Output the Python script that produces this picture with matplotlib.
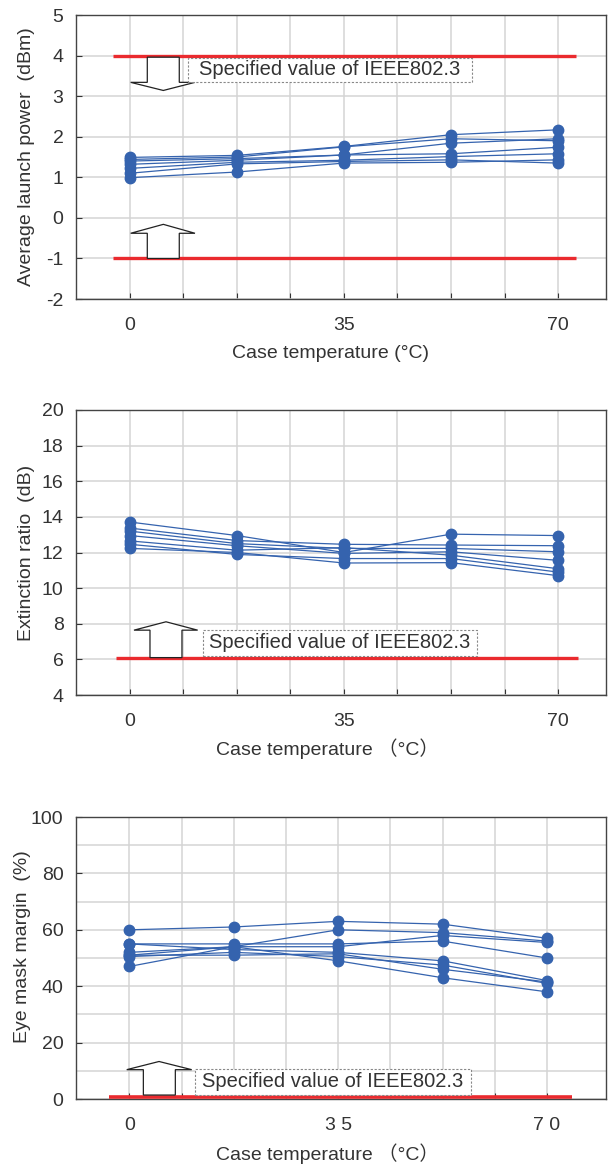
import matplotlib
matplotlib.use('Agg')
import matplotlib.pyplot as plt
from matplotlib.patches import Polygon, Rectangle
from matplotlib.ticker import FixedLocator

plt.rcParams['font.family'] = ['Liberation Sans', 'Noto Sans CJK JP', 'DejaVu Sans']
plt.rcParams['axes.unicode_minus'] = False

# ---------------- data ----------------
temps = [0, 17.5, 35, 52.5, 70]

power_series = [
    [1.49, 1.54, 1.76, 2.05, 2.17],
    [1.44, 1.50, 1.75, 1.95, 1.90],
    [1.40, 1.46, 1.55, 1.84, 1.95],
    [1.32, 1.42, 1.55, 1.58, 1.74],
    [1.22, 1.37, 1.42, 1.51, 1.58],
    [1.10, 1.33, 1.39, 1.43, 1.35],
    [0.99, 1.13, 1.35, 1.37, 1.43],
]
power_limits = [4.0, -1.0]

extinction_series = [
    [13.71, 12.95, 12.00, 13.03, 12.95],
    [13.37, 12.67, 12.46, 12.42, 12.38],
    [13.20, 12.50, 12.23, 12.23, 12.04],
    [12.95, 12.38, 11.95, 12.04, 11.56],
    [12.65, 12.13, 12.27, 11.85, 11.09],
    [12.46, 11.89, 11.66, 11.66, 10.90],
    [12.23, 12.00, 11.41, 11.43, 10.70],
]
extinction_limit = 6.1

eye_series = [
    [60.0, 61.0, 63.0, 62.0, 57.0],
    [51.0, 54.0, 60.0, 59.0, 56.0],
    [55.0, 55.0, 55.0, 56.0, 50.0],
    [52.0, 54.0, 54.0, 58.0, 55.5],
    [55.0, 53.0, 52.0, 49.0, 42.0],
    [50.5, 52.0, 50.5, 47.5, 41.0],
    [47.0, 54.0, 49.0, 43.0, 38.0],
    [51.0, 51.0, 51.5, 46.0, 41.5],
]
eye_limit = 0.8

spec_text = "Specified value of IEEE802.3"

# ---------------- style ----------------
BLUE = '#3563ae'
RED = '#ea2a2e'
GRID = '#d4d4d4'
TXT = '#333333'
FS = 14

W, H = 610, 1165
fig = plt.figure(figsize=(W / 100, H / 100), dpi=100)


def add_ax(left, top, right, bottom):
    return fig.add_axes([left / W, 1 - bottom / H, (right - left) / W, (bottom - top) / H])


def style(ax, xlim, ylim, yticks, yminor, xtick_labels):
    ax.set_xlim(*xlim)
    ax.set_ylim(*ylim)
    ax.xaxis.set_major_locator(FixedLocator([0, 35, 70]))
    ax.xaxis.set_minor_locator(FixedLocator([8.75, 17.5, 26.25, 43.75, 52.5, 61.25]))
    ax.set_xticklabels(xtick_labels)
    ax.yaxis.set_major_locator(FixedLocator(yticks))
    if yminor:
        ax.yaxis.set_minor_locator(FixedLocator(yminor))
    ax.grid(True, which='both', color=GRID, lw=1.1, zorder=0)
    ax.set_axisbelow(True)
    ax.tick_params(axis='both', which='both', direction='in', length=4, width=0.8,
                   color='#333333', labelsize=FS, labelcolor=TXT)
    ax.tick_params(axis='x', which='major', pad=13)
    ax.tick_params(axis='y', which='minor', length=0)
    ax.tick_params(axis='y', which='major', pad=9)
    for s in ax.spines.values():
        s.set_color('#444444')
        s.set_linewidth(1.0)


def block_arrow(ax, x0, x1, hx0, hx1, tipx, base_y, head_y, tip_y):
    pts = [(x0, base_y), (x0, head_y), (hx0, head_y), (tipx, tip_y),
           (hx1, head_y), (x1, head_y), (x1, base_y)]
    ax.add_patch(Polygon(pts, closed=True, facecolor='white', edgecolor='#222222',
                         lw=0.9, zorder=4))


def spec_box(ax, x0, x1, y0, y1):
    ax.add_patch(Rectangle((x0, y0), x1 - x0, y1 - y0, facecolor='white',
                           edgecolor='#888888', ls=(0, (2, 1.5)), lw=0.8, zorder=4))
    ax.text((x0 + x1) / 2, (y0 + y1) / 2, spec_text, ha='center', va='center',
            fontsize=14.5, color=TXT, zorder=5)


def plot_series(ax, series):
    for s in series:
        ax.plot(temps, s, color=BLUE, lw=0.9, marker='o', ms=7.5,
                markerfacecolor=BLUE, markeredgecolor=BLUE, zorder=3)


# ---------------- panel 1 ----------------
ax1 = add_ax(76, 15, 606, 299)
style(ax1, (-8.83, 77.85), (-2, 5), list(range(-2, 6)), None, ['0', '35', '70'])
for lim in power_limits:
    ax1.plot([-2.8, 73], [lim, lim], color=RED, lw=2.4, zorder=3, solid_capstyle='butt')
plot_series(ax1, power_series)
block_arrow(ax1, 2.83, 8.06, 0.11, 10.63, 5.45, 3.96, 3.34, 3.14)
block_arrow(ax1, 2.83, 8.06, 0.11, 10.63, 5.45, -1.0, -0.38, -0.16)
spec_box(ax1, 9.44, 55.9, 3.36, 3.94)
ax1.set_ylabel('Average launch power  (dBm)', fontsize=FS, color=TXT)
ax1.yaxis.set_label_coords(-0.077, 0.5)
ax1.set_xlabel('Case temperature (°C)', fontsize=FS, color=TXT)
ax1.xaxis.set_label_coords(0.481, -0.163)

# ---------------- panel 2 ----------------
ax2 = add_ax(76, 410, 606, 695)
style(ax2, (-8.83, 77.85), (4, 20), list(range(4, 21, 2)), None, ['0', '35', '70'])
ax2.plot([-2.3, 73.3], [extinction_limit] * 2, color=RED, lw=2.4, zorder=3,
         solid_capstyle='butt')
plot_series(ax2, extinction_series)
block_arrow(ax2, 3.27, 8.5, 0.65, 11.07, 5.89, extinction_limit, 7.64, 8.11)
spec_box(ax2, 12.0, 56.7, 6.2, 7.64)
ax2.set_ylabel('Extinction ratio  (dB)', fontsize=FS, color=TXT)
ax2.yaxis.set_label_coords(-0.077, 0.5)
ax2.set_xlabel('Case temperature （°C）', fontsize=FS, color=TXT)
ax2.xaxis.set_label_coords(0.474, -0.152)

# ---------------- panel 3 ----------------
ax3 = add_ax(76, 817, 606, 1099)
style(ax3, (-8.94, 79.9), (0, 100), list(range(0, 101, 20)), list(range(10, 100, 20)),
      ['0', '3 5', '7 0'])
ax3.plot([-3.4, 74.2], [eye_limit] * 2, color=RED, lw=2.6, zorder=3,
         solid_capstyle='butt', clip_on=False)
plot_series(ax3, eye_series)
block_arrow(ax3, 2.35, 7.71, -0.44, 10.46, 4.98, 1.4, 10.4, 13.3)
spec_box(ax3, 11.07, 57.2, 1.5, 10.6)
ax3.set_ylabel('Eye mask margin  (%)', fontsize=FS, color=TXT)
ax3.yaxis.set_label_coords(-0.085, 0.54)
ax3.set_xlabel('Case temperature （°C）', fontsize=FS, color=TXT)
ax3.xaxis.set_label_coords(0.4745, -0.158)

fig.savefig('out.png', dpi=100)
